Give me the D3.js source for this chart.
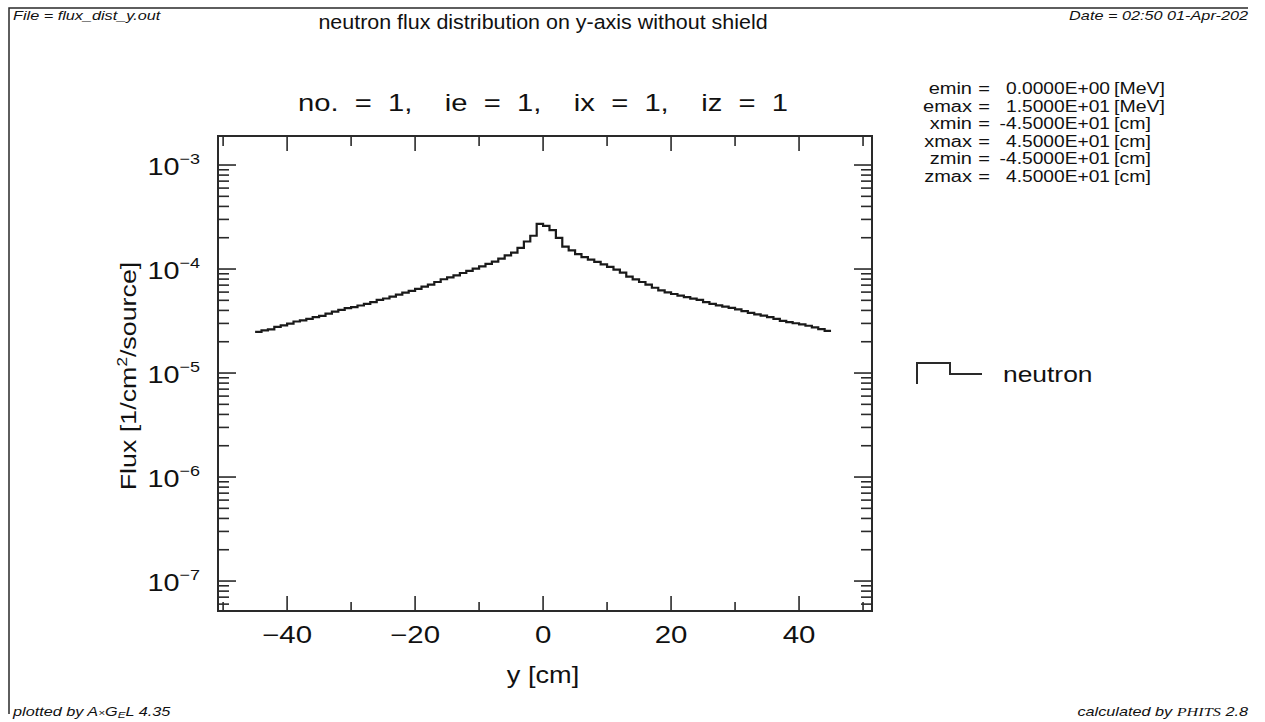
<!DOCTYPE html>
<html>
<head>
<meta charset="utf-8">
<script src="https://cdn.jsdelivr.net/npm/d3@7"></script>
<style>
  html, body { margin: 0; padding: 0; background: #fff; }
  svg { display: block; font-family: "Liberation Sans", Arial, sans-serif; }
</style>
</head>
<body>
<div id="chart"></div>
<script>
// flux per 1 cm bin along y, from -45 to 45 (units of 1e-5 /cm2/source)
const binEdgesStart = -45;
const binWidth = 1;
const fluxE5 = [
  2.49, 2.57, 2.63, 2.78, 2.87, 2.99, 3.13, 3.21, 3.31, 3.45,
  3.55, 3.72, 3.89, 4.05, 4.21, 4.31, 4.46, 4.62, 4.80, 5.04,
  5.21, 5.43, 5.68, 5.92, 6.16, 6.43, 6.76, 7.07, 7.50, 7.97,
  8.32, 8.70, 9.16, 9.61, 10.1, 10.6, 11.2, 11.8, 12.6, 13.5,
  14.4, 16.0, 18.4, 20.9, 27.2, 26.0, 23.7, 19.9, 16.4, 15.1,
  13.9, 13.0, 12.3, 11.7, 11.1, 10.5, 9.89, 9.23, 8.47, 7.94,
  7.50, 7.08, 6.61, 6.24, 5.96, 5.75, 5.56, 5.37, 5.19, 5.04,
  4.81, 4.62, 4.47, 4.35, 4.23, 4.09, 3.94, 3.78, 3.67, 3.56,
  3.45, 3.31, 3.18, 3.09, 3.01, 2.94, 2.85, 2.75, 2.64, 2.54
];

const xMajorTicks = [-40, -20, 0, 20, 40];
const xMinorTicks = [-50, -30, -10, 10, 30, 50];
const yDecades = [-3, -4, -5, -6, -7];

const paramNames = ["emin", "emax", "xmin", "xmax", "zmin", "zmax"];
const paramValues = ["0.0000E+00", "1.5000E+01", "-4.5000E+01", "4.5000E+01", "-4.5000E+01", "4.5000E+01"];
const paramUnits = ["[MeV]", "[MeV]", "[cm]", "[cm]", "[cm]", "[cm]"];

const W = 1265, H = 722;
const plot = { left: 218, right: 872, top: 136, bottom: 611 };
const ink = "#2a2a2a";

const svg = d3.select("#chart").append("svg")
  .attr("width", W).attr("height", H);

// text is drawn a bit wider than the font, like the original output
function label(parent, px, py, str, size, sx, anchor) {
  return parent.append("text")
    .attr("transform", `translate(${px},${py}) scale(${sx},1)`)
    .attr("font-size", size)
    .attr("text-anchor", anchor || "start")
    .attr("fill", "#111")
    .text(str);
}

// page frame (left + top)
svg.append("path")
  .attr("d", `M9,714 L9,8 L1248,8`)
  .attr("fill", "none").attr("stroke", ink).attr("stroke-width", 1.5);

const x = d3.scaleLinear().domain([-50.8, 51.4]).range([plot.left, plot.right]);
const y = d3.scaleLog().domain([Math.pow(10, -7.288), Math.pow(10, -2.721)]).range([plot.bottom, plot.top]);

// header / footer
label(svg, 13, 20, "File = flux_dist_y.out", 12.5, 1.3).attr("font-style", "italic");
label(svg, 1248, 20, "Date = 02:50 01-Apr-202", 12.5, 1.3, "end").attr("font-style", "italic");
label(svg, 13, 716, "", 12.5, 1.3).attr("font-style", "italic")
  .html('plotted by A<tspan font-size="9">×</tspan>G<tspan font-size="9" dy="2">E</tspan><tspan dy="-2">L 4.35</tspan>');
label(svg, 1248, 716, "", 12.5, 1.3, "end").attr("font-style", "italic")
  .html('calculated by <tspan font-family="Liberation Serif, serif">PHITS</tspan> 2.8');

label(svg, 543, 29, "neutron flux distribution on y-axis without shield", 19.5, 1.1, "middle");

label(svg, 543, 111, "no.  =  1,    ie  =  1,    ix  =  1,    iz  =  1", 23, 1.27, "middle")
  .attr("xml:space", "preserve");

// parameter block
paramNames.forEach((n, i) => {
  const yy = 94 + i * 17.6;
  label(svg, 972, yy, n, 16, 1.25, "end");
  label(svg, 984, yy, "=", 16, 1.25, "middle");
  label(svg, 1110, yy, paramValues[i], 16, 1.2, "end");
  label(svg, 1114, yy, paramUnits[i], 16, 1.22);
});

// frame
svg.append("rect")
  .attr("x", plot.left).attr("y", plot.top)
  .attr("width", plot.right - plot.left).attr("height", plot.bottom - plot.top)
  .attr("fill", "none").attr("stroke", ink).attr("stroke-width", 2);

// x ticks (bottom and top)
const tg = svg.append("g").attr("stroke", ink).attr("stroke-width", 1.6);
xMajorTicks.forEach(v => {
  tg.append("line").attr("x1", x(v)).attr("x2", x(v)).attr("y1", plot.bottom).attr("y2", plot.bottom - 15);
  tg.append("line").attr("x1", x(v)).attr("x2", x(v)).attr("y1", plot.top).attr("y2", plot.top + 15);
});
xMinorTicks.forEach(v => {
  tg.append("line").attr("x1", x(v)).attr("x2", x(v)).attr("y1", plot.bottom).attr("y2", plot.bottom - 9);
  tg.append("line").attr("x1", x(v)).attr("x2", x(v)).attr("y1", plot.top).attr("y2", plot.top + 10);
});

// y ticks (log, left and right)
y.ticks().forEach(v => {
  const major = Math.abs(Math.log10(v) - Math.round(Math.log10(v))) < 1e-6;
  const len = major ? 18 : 11;
  const py = y(v);
  tg.append("line").attr("x1", plot.left).attr("x2", plot.left + len).attr("y1", py).attr("y2", py);
  tg.append("line").attr("x1", plot.right).attr("x2", plot.right - len).attr("y1", py).attr("y2", py);
});

// tick labels
xMajorTicks.forEach(v => {
  label(svg, x(v), 643, v < 0 ? "\u2212" + Math.abs(v) : String(v), 23, 1.28, "middle");
});
yDecades.forEach(e => {
  const t = label(svg, 200, y(Math.pow(10, e)) + 10, "", 24, 1.2, "end");
  t.append("tspan").text("10");
  t.append("tspan").attr("font-size", 15).attr("dy", -11).text("\u2212" + Math.abs(e));
});

// axis titles
label(svg, 543, 683, "y [cm]", 23, 1.18, "middle");
const yl = svg.append("text")
  .attr("transform", "translate(136,376) rotate(-90) scale(1.22,1)")
  .attr("text-anchor", "middle").attr("font-size", 22).attr("fill", "#111");
yl.append("tspan").text("Flux [1/cm");
yl.append("tspan").attr("font-size", 14).attr("dy", -9).text("2");
yl.append("tspan").attr("dy", 9).text("/source]");

// histogram step line
const pts = fluxE5.map((f, i) => [binEdgesStart + i * binWidth, f * 1e-5]);
pts.push([binEdgesStart + fluxE5.length * binWidth, fluxE5[fluxE5.length - 1] * 1e-5]);
const line = d3.line().x(d => x(d[0])).y(d => y(d[1])).curve(d3.curveStepAfter);
svg.append("path").datum(pts)
  .attr("d", line)
  .attr("fill", "none").attr("stroke", "#1a1a1a").attr("stroke-width", 2.2);

// legend
svg.append("path")
  .attr("d", "M917,384 L917,363 L950,363 L950,374 L982,374")
  .attr("fill", "none").attr("stroke", ink).attr("stroke-width", 2);
label(svg, 1003, 382, "neutron", 22, 1.2);
</script>
</body>
</html>
